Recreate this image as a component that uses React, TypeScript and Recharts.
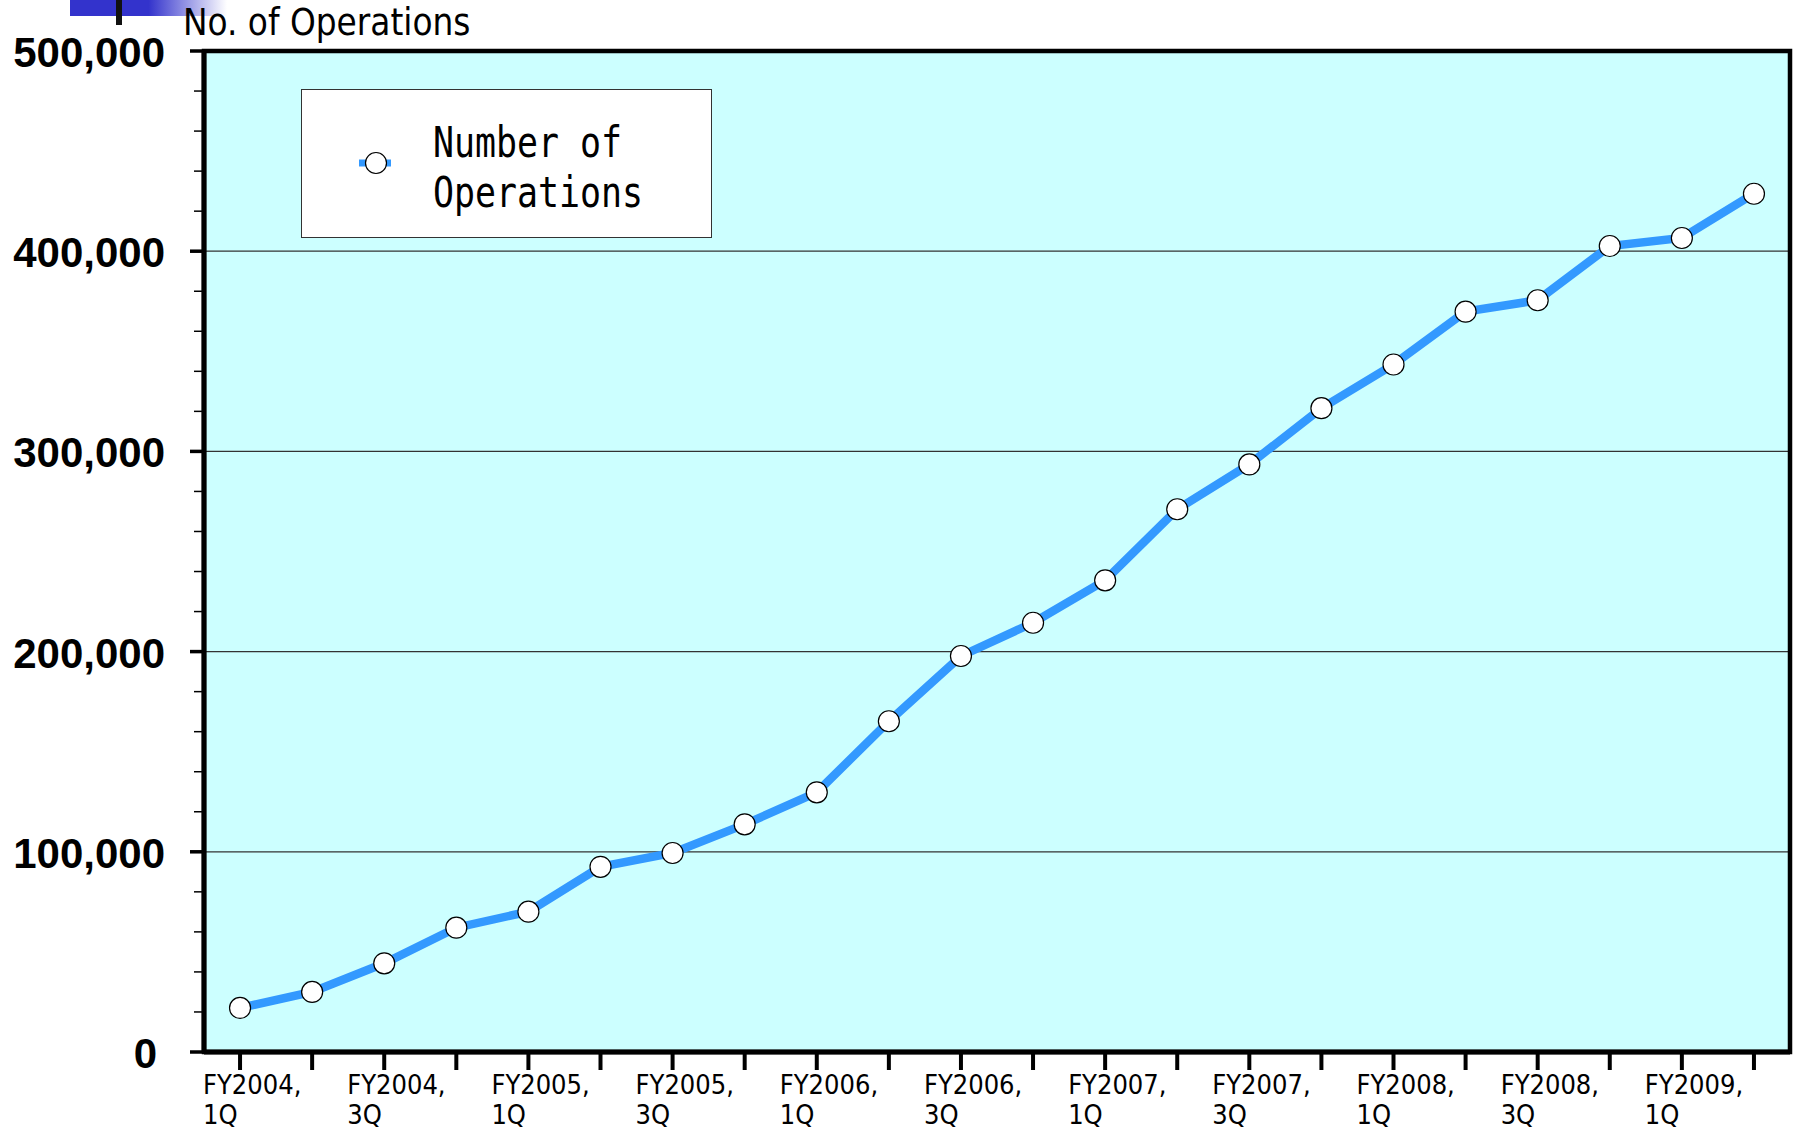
import React from 'react';
import {
  LineChart,
  Line,
  XAxis,
  YAxis,
  CartesianGrid,
  Legend,
  ReferenceArea,
} from 'recharts';

// Fiscal quarters on the category axis
const quarters: string[] = [
  'FY2004 1Q', 'FY2004 2Q', 'FY2004 3Q', 'FY2004 4Q',
  'FY2005 1Q', 'FY2005 2Q', 'FY2005 3Q', 'FY2005 4Q',
  'FY2006 1Q', 'FY2006 2Q', 'FY2006 3Q', 'FY2006 4Q',
  'FY2007 1Q', 'FY2007 2Q', 'FY2007 3Q', 'FY2007 4Q',
  'FY2008 1Q', 'FY2008 2Q', 'FY2008 3Q', 'FY2008 4Q',
  'FY2009 1Q', 'FY2009 2Q',
];

// Cumulative number of operations per quarter
const operations: number[] = [
  22000, 30000, 44300, 62100, 70100, 92500, 99400, 113700,
  129700, 165200, 197800, 214400, 235600, 271100, 293500, 321600,
  343400, 369800, 375500, 402600, 406600, 428700,
];

// Y axis: labelled majors every 100,000 with minor marks every 20,000
const yMajorTicks: number[] = [0, 100000, 200000, 300000, 400000, 500000];
const yAllTicks: number[] = [
  0, 20000, 40000, 60000, 80000, 100000, 120000, 140000, 160000, 180000,
  200000, 220000, 240000, 260000, 280000, 300000, 320000, 340000, 360000,
  380000, 400000, 420000, 440000, 460000, 480000, 500000,
];
const gridValues: number[] = [100000, 200000, 300000, 400000];

const seriesName = 'Number of Operations';
const legendLines: string[] = ['Number of', 'Operations'];
const axisTitle = 'No. of Operations';

const data = quarters.map((q, i) => ({ quarter: q, value: operations[i] }));

const LINE_BLUE = '#3399FF';
const PLOT_BG = '#CCFFFF';

const fmt = (v: number) => v.toLocaleString('en-US');

const YTick = (props: any) => {
  const { x, y, payload } = props;
  const v = Number(payload.value);
  const major = yMajorTicks.includes(v);
  return (
    <g>
      <line
        x1={x - (major ? 14 : 10)}
        x2={x}
        y1={y}
        y2={y}
        stroke="#000"
        strokeWidth={major ? 3.5 : 1.5}
      />
      {major && (
        <text
          x={v === 0 ? x - 47 : x - 39}
          y={y + 16}
          textAnchor="end"
          fontFamily="'Liberation Sans', Arial, sans-serif"
          fontWeight="bold"
          fontSize={42}
          fill="#000"
        >
          {fmt(v)}
        </text>
      )}
    </g>
  );
};

const XTick = (props: any) => {
  const { x, y, payload } = props;
  const [fy, q] = String(payload.value).split(' ');
  if (q !== '1Q' && q !== '3Q') return <g />;
  return (
    <g>
      <text
        x={x - 37}
        y={y + 24}
        textAnchor="start"
        fontFamily="'DejaVu Sans Condensed', 'DejaVu Sans', sans-serif"
        fontSize={27}
        fill="#000"
      >
        {fy + ','}
      </text>
      <text
        x={x - 37}
        y={y + 54}
        textAnchor="start"
        fontFamily="'DejaVu Sans Condensed', 'DejaVu Sans', sans-serif"
        fontSize={27}
        fill="#000"
      >
        {q}
      </text>
    </g>
  );
};

const renderLegend = () => (
  <svg width={412} height={150} style={{ display: 'block' }}>
    <rect x={0.5} y={0.5} width={410} height={148} fill="#fff" stroke="#333" strokeWidth={1} />
    <line x1={58} x2={90} y1={74} y2={74} stroke={LINE_BLUE} strokeWidth={7} />
    <circle cx={75} cy={74} r={10.5} fill="#fff" stroke="#000" strokeWidth={1.2} />
    <text
      x={132}
      y={68}
      fontFamily="'DejaVu Sans Mono', monospace"
      fontSize={43}
      textLength={189}
      lengthAdjust="spacingAndGlyphs"
      fill="#000"
    >
      {legendLines[0]}
    </text>
    <text
      x={132}
      y={118}
      fontFamily="'DejaVu Sans Mono', monospace"
      fontSize={43}
      textLength={210}
      lengthAdjust="spacingAndGlyphs"
      fill="#000"
    >
      {legendLines[1]}
    </text>
  </svg>
);

export default function App() {
  return (
    <div
      style={{
        position: 'absolute',
        left: 0,
        top: 0,
        width: 1798,
        height: 1133,
        background: '#fff',
        overflow: 'hidden',
      }}
    >
      {/* slide header accent and axis title */}
      <svg
        width={1798}
        height={60}
        style={{ position: 'absolute', left: 0, top: 0, pointerEvents: 'none' }}
      >
        <defs>
          <linearGradient id="accent" x1="0" x2="1" y1="0" y2="0">
            <stop offset="0" stopColor="#3333CC" />
            <stop offset="0.5" stopColor="#3333CC" />
            <stop offset="1" stopColor="#3333CC" stopOpacity={0} />
          </linearGradient>
        </defs>
        <rect x={70} y={0} width={157} height={16} fill="url(#accent)" />
        <rect x={116} y={0} width={6} height={25} fill="#111" />
        <text
          x={183}
          y={35}
          fontFamily="'DejaVu Sans Condensed', 'DejaVu Sans', sans-serif"
          fontSize={36.5}
          fill="#000"
        >
          {axisTitle}
        </text>
      </svg>

      <LineChart
        width={1798}
        height={1133}
        data={data}
        margin={{ top: 51, right: 8, bottom: 11, left: 104 }}
      >
        <CartesianGrid
          vertical={false}
          horizontalValues={gridValues}
          fill={PLOT_BG}
          fillOpacity={1}
          stroke="#333"
          strokeWidth={1.2}
        />
        <XAxis
          dataKey="quarter"
          scale="band"
          interval={0}
          height={70}
          tickSize={18}
          tickMargin={0}
          axisLine={{ stroke: '#000', strokeWidth: 5 }}
          tickLine={{ stroke: '#000', strokeWidth: 4 }}
          tick={<XTick />}
        />
        <YAxis
          width={100}
          domain={[0, 500000]}
          ticks={yAllTicks}
          interval={0}
          tickSize={0}
          tickMargin={0}
          tickLine={false}
          axisLine={{ stroke: '#000', strokeWidth: 5 }}
          tick={<YTick />}
        />
        <ReferenceArea
          y1={0}
          y2={500000}
          fill="none"
          fillOpacity={0}
          stroke="#000"
          strokeWidth={4.5}
          ifOverflow="visible"
        />
        <Line
          type="linear"
          dataKey="value"
          name={seriesName}
          stroke={LINE_BLUE}
          strokeWidth={8.5}
          dot={{ r: 10.5, fill: '#fff', stroke: '#000', strokeWidth: 1.2 }}
          activeDot={false}
          isAnimationActive={false}
        />
        <Legend
          layout="horizontal"
          verticalAlign="middle"
          align="center"
          wrapperStyle={{ left: 301, top: 89, width: 412, height: 150 }}
          content={renderLegend}
        />
      </LineChart>
    </div>
  );
}
